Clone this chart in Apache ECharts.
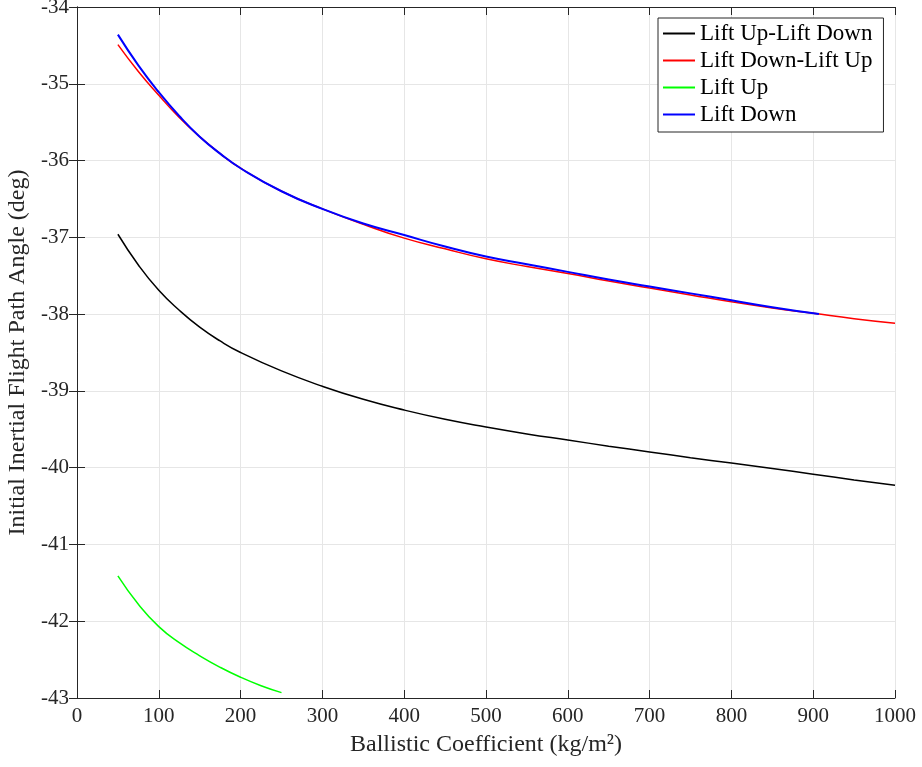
<!DOCTYPE html>
<html>
<head>
<meta charset="utf-8">
<script src="https://cdn.jsdelivr.net/npm/echarts@6/dist/echarts.min.js"></script>
<style>
  html, body { margin: 0; padding: 0; background: #fff; }
  #chart { width: 922px; height: 767px; }
</style>
</head>
<body>
<div id="chart"></div>
<script>
// values
var xFull = [50, 75, 100, 125, 150, 175, 200, 250, 300, 350, 400, 450, 500, 550, 600, 650, 700, 750, 800, 850, 900, 950, 1000];
var upDown = [-36.96, -37.36, -37.69, -37.95, -38.17, -38.35, -38.50, -38.74, -38.94, -39.11, -39.25, -39.37, -39.47, -39.56, -39.64, -39.72, -39.795, -39.87, -39.94, -40.01, -40.085, -40.16, -40.23];
var downUp = [-34.49, -34.84, -35.15, -35.44, -35.69, -35.91, -36.10, -36.40, -36.63, -36.83, -37.01, -37.15, -37.28, -37.38, -37.47, -37.57, -37.66, -37.75, -37.84, -37.92, -37.99, -38.06, -38.12];
var xDown = [50, 75, 100, 125, 150, 175, 200, 250, 300, 350, 400, 450, 500, 550, 600, 650, 700, 750, 800, 850, 907];
var liftDown = [-34.36, -34.76, -35.11, -35.42, -35.69, -35.91, -36.10, -36.40, -36.63, -36.82, -36.97, -37.12, -37.25, -37.35, -37.45, -37.55, -37.64, -37.73, -37.82, -37.91, -38.00];
var xUp = [50, 75, 100, 125, 150, 175, 200, 225, 250];
var liftUp = [-41.41, -41.78, -42.07, -42.28, -42.45, -42.60, -42.73, -42.84, -42.93];

var names = ['Lift Up-Lift Down', 'Lift Down-Lift Up', 'Lift Up', 'Lift Down'];
var colors = ['#000000', '#ff0000', '#00ff00', '#0000ff'];

function pairs(xs, ys) {
  var out = [];
  for (var i = 0; i < xs.length; i++) out.push([xs[i], ys[i]]);
  return out;
}

var font = 'Liberation Serif';
var axisCol = '#262626';

function mkSeries(name, xs, ys, color, w) {
  return {
    name: name,
    type: 'line',
    data: pairs(xs, ys),
    smooth: 0.5,
    symbol: 'none',
    lineStyle: { color: color, width: w },
    itemStyle: { color: color }
  };
}

var chart = echarts.init(document.getElementById('chart'));
chart.setOption({
  animation: false,
  backgroundColor: '#fff',
  grid: { left: 77, right: 27, top: 7, bottom: 69, containLabel: false, outerBoundsMode: 'none' },
  legend: {
    data: names,
    orient: 'vertical',
    left: 658,
    top: 18,
    icon: 'rect',
    itemWidth: 32,
    itemHeight: 2,
    itemGap: 4,
    padding: [4, 11, 6, 5],
    borderColor: axisCol,
    borderWidth: 1,
    backgroundColor: '#fff',
    textStyle: { fontFamily: font, fontSize: 23, color: '#000', lineHeight: 23 }
  },
  xAxis: [{
    type: 'value',
    min: 0, max: 1000, interval: 100,
    name: 'Ballistic Coefficient (kg/m\u00b2)',
    nameLocation: 'middle',
    nameGap: 35,
    nameTextStyle: { fontFamily: font, fontSize: 24, color: '#262626' },
    axisLine: { show: true, lineStyle: { color: axisCol, width: 1 } },
    axisTick: { show: true, inside: true, length: 8, lineStyle: { color: axisCol } },
    axisLabel: { fontFamily: font, fontSize: 21, color: '#262626', margin: 8,
      formatter: function (v) { return String(v); } },
    splitLine: { show: true, lineStyle: { color: '#e6e6e6', width: 1 } }
  }, {
    type: 'value', position: 'top',
    min: 0, max: 1000, interval: 100,
    axisLine: { show: true, lineStyle: { color: axisCol, width: 1 } },
    axisTick: { show: true, inside: true, length: 8, lineStyle: { color: axisCol } },
    axisLabel: { show: false },
    splitLine: { show: false }
  }],
  yAxis: [{
    type: 'value',
    min: -43, max: -34, interval: 1,
    name: 'Initial Inertial Flight Path Angle (deg)',
    nameLocation: 'middle',
    nameGap: 46,
    nameTextStyle: { fontFamily: font, fontSize: 24, color: '#262626' },
    axisLine: { show: true, lineStyle: { color: axisCol, width: 1 } },
    axisTick: { show: true, inside: true, length: 8, lineStyle: { color: axisCol } },
    axisLabel: { fontFamily: font, fontSize: 21, color: '#262626', margin: 8,
      formatter: function (v) { return String(v); } },
    splitLine: { show: true, lineStyle: { color: '#e6e6e6', width: 1 } }
  }, {
    type: 'value', position: 'right',
    min: -43, max: -34, interval: 1,
    axisLine: { show: true, lineStyle: { color: axisCol, width: 1 } },
    axisTick: { show: true, inside: true, length: 8, lineStyle: { color: axisCol } },
    axisLabel: { show: false },
    splitLine: { show: false }
  }],
  series: [
    mkSeries(names[0], xFull, upDown, colors[0], 1.5),
    mkSeries(names[1], xFull, downUp, colors[1], 1.5),
    mkSeries(names[2], xUp, liftUp, colors[2], 1.5),
    mkSeries(names[3], xDown, liftDown, colors[3], 2)
  ]
});
</script>
</body>
</html>
